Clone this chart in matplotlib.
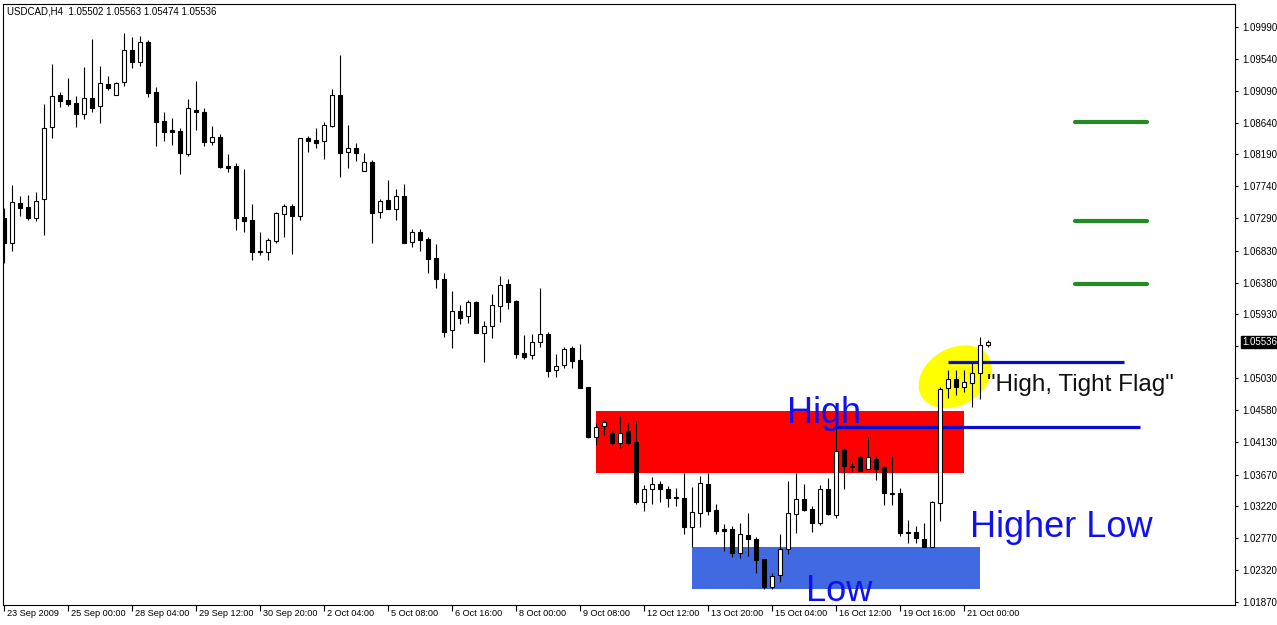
import numpy as np
import matplotlib.pyplot as plt
from matplotlib.patches import Rectangle, Ellipse
from matplotlib.transforms import ScaledTranslation, blended_transform_factory

plt.rcParams['font.family'] = ['Liberation Sans', 'DejaVu Sans']

# USDCAD H4 candles (23 Sep 2009 -> 21 Oct 2009 12:00)
opens = [1.07293, 1.0694, 1.07505, 1.07448, 1.07293, 1.07561, 1.08578, 1.0903, 1.08959, 1.08917,
         1.08761, 1.08987, 1.08874, 1.09185, 1.0903, 1.09213, 1.09665, 1.09496, 1.09778, 1.09072,
         1.08663, 1.08535, 1.08521, 1.08197, 1.08818, 1.0879, 1.08366, 1.08437, 1.08027, 1.08027,
         1.07307, 1.07265, 1.06827, 1.06813, 1.06968, 1.07349, 1.07462, 1.07321, 1.08423, 1.08394,
         1.0838, 1.08592, 1.0903, 1.08225, 1.08281, 1.07956, 1.08084, 1.07377, 1.07547, 1.0742,
         1.07603, 1.06954, 1.07095, 1.06996, 1.06728, 1.06431, 1.05711, 1.05979, 1.05909, 1.06106,
         1.05669, 1.05768, 1.0605, 1.06361, 1.06121, 1.05386, 1.05358, 1.05542, 1.05655, 1.05146,
         1.05217, 1.05457, 1.05287, 1.04906, 1.042, 1.04355, 1.04256, 1.04115, 1.04285, 1.04129,
         1.03282, 1.03466, 1.03536, 1.03466, 1.03353, 1.03339, 1.02929, 1.03127, 1.03536, 1.03169,
         1.02901, 1.02901, 1.02562, 1.02816, 1.0276, 1.02477, 1.02082, 1.02251, 1.02618, 1.03113,
         1.03324, 1.03183, 1.02986, 1.03466, 1.03098, 1.04016, 1.0379, 1.03918, 1.03748, 1.03889,
         1.03776, 1.03409, 1.03409, 1.02858, 1.02858, 1.0276, 1.02647, 1.03268, 1.04892, 1.05019,
         1.04906, 1.04963, 1.05104, 1.05502]
highs = [1.07434, 1.07759, 1.07603, 1.07618, 1.0766, 1.08903, 1.09468, 1.09072, 1.0927, 1.09016,
         1.09425, 1.09821, 1.09439, 1.09298, 1.09213, 1.09905, 1.09849, 1.09863, 1.09806, 1.09143,
         1.0879, 1.08705, 1.08564, 1.08973, 1.09227, 1.08846, 1.08592, 1.08479, 1.08197, 1.08069,
         1.07985, 1.0749, 1.07095, 1.0701, 1.07377, 1.0749, 1.0749, 1.08423, 1.08451, 1.08564,
         1.08648, 1.09114, 1.09595, 1.08606, 1.08352, 1.08211, 1.08112, 1.07561, 1.07829, 1.07702,
         1.07773, 1.07137, 1.07137, 1.07024, 1.06926, 1.06516, 1.06262, 1.06064, 1.06135, 1.06121,
         1.05838, 1.06219, 1.06474, 1.06431, 1.06135, 1.0564, 1.05655, 1.06304, 1.05683, 1.05372,
         1.05471, 1.05485, 1.05513, 1.04906, 1.04398, 1.0444, 1.04299, 1.04497, 1.04398, 1.04426,
         1.03522, 1.03635, 1.03579, 1.03508, 1.0348, 1.03692, 1.03494, 1.03649, 1.03692, 1.03254,
         1.02971, 1.02943, 1.02986, 1.03127, 1.02788, 1.02477, 1.02279, 1.0283, 1.03579, 1.03692,
         1.03536, 1.03226, 1.03522, 1.03621, 1.04341, 1.04045, 1.03847, 1.03932, 1.042, 1.03932,
         1.0379, 1.03932, 1.0348, 1.03028, 1.02943, 1.02986, 1.03296, 1.04906, 1.05146, 1.05146,
         1.05146, 1.05245, 1.05612, 1.05563]
lows = [1.06657, 1.06827, 1.07321, 1.07265, 1.0725, 1.07053, 1.08423, 1.0886, 1.08874, 1.08578,
        1.08691, 1.0879, 1.08634, 1.091, 1.0903, 1.09157, 1.09411, 1.09439, 1.09002, 1.08309,
        1.0838, 1.08324, 1.07914, 1.08168, 1.08535, 1.08309, 1.08324, 1.07999, 1.07942, 1.07123,
        1.07095, 1.067, 1.0677, 1.067, 1.0694, 1.07024, 1.06784, 1.07265, 1.08225, 1.08281,
        1.08126, 1.08578, 1.07872, 1.07999, 1.08098, 1.07956, 1.0694, 1.07293, 1.0742, 1.07265,
        1.0694, 1.06883, 1.06827, 1.06516, 1.06304, 1.05612, 1.05457, 1.05796, 1.0581, 1.05669,
        1.05259, 1.05598, 1.05824, 1.06008, 1.05316, 1.05302, 1.05302, 1.05471, 1.05047, 1.05047,
        1.05174, 1.05174, 1.04892, 1.04186, 1.04087, 1.04228, 1.04101, 1.04045, 1.04101, 1.03254,
        1.03155, 1.03254, 1.03282, 1.03211, 1.03226, 1.0283, 1.02647, 1.02929, 1.03098, 1.0283,
        1.0259, 1.02505, 1.02491, 1.02519, 1.02279, 1.02053, 1.02053, 1.02152, 1.02548, 1.02844,
        1.03155, 1.02858, 1.02957, 1.03098, 1.03056, 1.03466, 1.03706, 1.0372, 1.03748, 1.03593,
        1.0324, 1.0324, 1.02802, 1.02703, 1.02703, 1.02647, 1.02647, 1.03014, 1.04751, 1.04793,
        1.04835, 1.04624, 1.04737, 1.05474]
closes = [1.0694, 1.07519, 1.07434, 1.07293, 1.07533, 1.08564, 1.09016, 1.08945, 1.08903, 1.08761,
          1.08987, 1.08846, 1.09199, 1.09129, 1.09199, 1.09665, 1.09496, 1.09778, 1.09058, 1.08648,
          1.08507, 1.08507, 1.08211, 1.08846, 1.0879, 1.08366, 1.08437, 1.08013, 1.07999, 1.07293,
          1.0725, 1.06813, 1.06813, 1.06982, 1.07363, 1.07462, 1.07321, 1.08423, 1.0838, 1.08352,
          1.08606, 1.0903, 1.08211, 1.08281, 1.08211, 1.08084, 1.07363, 1.07533, 1.0742, 1.07603,
          1.0694, 1.07095, 1.06982, 1.06714, 1.06431, 1.05683, 1.05979, 1.05881, 1.06106, 1.05669,
          1.05768, 1.06064, 1.06347, 1.06106, 1.05372, 1.0533, 1.05542, 1.05655, 1.05132, 1.05203,
          1.05443, 1.05273, 1.04892, 1.042, 1.04341, 1.04412, 1.04115, 1.04256, 1.04115, 1.03282,
          1.03466, 1.03536, 1.03466, 1.03339, 1.03339, 1.02929, 1.03141, 1.0355, 1.03155, 1.02873,
          1.02873, 1.02562, 1.0283, 1.0276, 1.02463, 1.02082, 1.02237, 1.02618, 1.03127, 1.03324,
          1.03169, 1.02986, 1.03466, 1.03113, 1.04002, 1.0379, 1.03776, 1.0372, 1.03918, 1.03748,
          1.03409, 1.03395, 1.02844, 1.02844, 1.02774, 1.02647, 1.03282, 1.04878, 1.05019, 1.04906,
          1.04977, 1.05104, 1.05499, 1.05536]

date_pos = [0, 8, 16, 24, 32, 40, 48, 56, 64, 72, 80, 88, 96, 104, 112, 120]
date_labels = ['23 Sep 2009', '25 Sep 00:00', '28 Sep 04:00', '29 Sep 12:00', '30 Sep 20:00',
               '2 Oct 04:00', '5 Oct 08:00', '6 Oct 16:00', '8 Oct 00:00', '9 Oct 08:00',
               '12 Oct 12:00', '13 Oct 20:00', '15 Oct 04:00', '16 Oct 12:00', '19 Oct 16:00',
               '21 Oct 00:00']
price_ticks = [1.09990, 1.09540, 1.09090, 1.08640, 1.08190, 1.07740, 1.07290, 1.06830, 1.06380,
               1.05930, 1.05480, 1.05030, 1.04580, 1.04130, 1.03670, 1.03220, 1.02770, 1.02320,
               1.01870]

# drawn-on analysis objects
resist_zone = (74, 120, 1.0369, 1.0457)     # red box: candle from/to, price low/high
support_zone = (86, 122, 1.0205, 1.0265)    # blue box
high_line = (104, 142, 1.0434)
flag_line = (118, 140, 1.0526)
targets = [1.0865, 1.0725, 1.0636]
target_span = (133.9, 142.9)

opens = np.array(opens)
closes = np.array(closes)
highs = np.array(highs)
lows = np.array(lows)
idx = np.arange(len(opens))

fig = plt.figure(figsize=(12.77, 6.25), dpi=100)
ax = fig.add_axes([3 / 1277, 20 / 625, 1232 / 1277, 601 / 625])

# zones
ax.add_patch(Rectangle((resist_zone[0], resist_zone[2]), resist_zone[1] - resist_zone[0],
                       resist_zone[3] - resist_zone[2], color='#FF0000', lw=0, zorder=1))
ax.add_patch(Rectangle((support_zone[0], support_zone[2]), support_zone[1] - support_zone[0],
                       support_zone[3] - support_zone[2], color='#4169E1', lw=0, zorder=1))
# yellow highlight around the flag
ell_tr = fig.dpi_scale_trans + ScaledTranslation(118.9, 1.0505, ax.transData)
ax.add_patch(Ellipse((0, 0), 0.78, 0.57, angle=30, color='#FFFF00', lw=0,
                     transform=ell_tr, zorder=1))

ax.hlines(high_line[2], high_line[0], high_line[1], color='#0A0ACD', lw=2.3, zorder=1.5)
ax.hlines(flag_line[2], flag_line[0], flag_line[1], color='#0A0ACD', lw=2.3, zorder=1.5)
for t in targets:
    ax.plot(target_span, [t, t], color='#228B22', lw=3, solid_capstyle='round', zorder=1.5)

# candles
up = closes >= opens
ax.vlines(idx, lows, highs, color='black', lw=0.8, zorder=2)
ax.bar(idx, np.abs(closes - opens), bottom=np.minimum(opens, closes), width=0.55,
       color=np.where(up, 'white', 'black'), edgecolor='black', lw=0.8, zorder=3)

# labels
blue = '#1010F0'
ax.text(97.9, 1.0440, 'High', color=blue, fontsize=26, zorder=4)
ax.text(100.3, 1.0188, 'Low', color=blue, fontsize=26, zorder=4, clip_on=False)
ax.text(120.8, 1.0279, 'Higher Low', color=blue, fontsize=26, zorder=4)
ax.text(122.9, 1.0485, '"High, Tight Flag"', color='#111111', fontsize=17.5, zorder=4)

ax.set_xlim(-0.125, 153.875)
ax.set_ylim(1.018275, 1.103148)

# the 1.05480 label sits under the current-price box, so it is left blank
ax.yaxis.tick_right()
ax.set_yticks(price_ticks)
ax.set_yticklabels(['' if p == 1.05480 else '%.5f' % p for p in price_ticks])
ax.tick_params(axis='y', direction='out', length=2.5, width=0.8, pad=2.5, labelsize=7)
ax.set_xticks(date_pos)
ax.set_xticklabels([])
ax.tick_params(axis='x', direction='out', length=4.3, width=0.8)
tr = blended_transform_factory(ax.transData, ax.transAxes)
for p, lab in zip(date_pos, date_labels):
    ax.text(p + 0.35, -0.0135, lab, transform=tr, fontsize=6.6, va='center', ha='left')

for s in ax.spines.values():
    s.set_linewidth(0.8)

# current price marker
ax.annotate('%.5f' % closes[-1], xy=(1.0, closes[-1]), xycoords=('axes fraction', 'data'),
            xytext=(5, 0), textcoords='offset points', fontsize=7, color='white',
            va='center', ha='left',
            bbox=dict(boxstyle='square,pad=0.1', fc='black', ec='black'))

ax.text(0.0032, 0.988, 'USDCAD,H4  1.05502 1.05563 1.05474 1.05536', transform=ax.transAxes,
        fontsize=7, va='center', ha='left')

fig.savefig('out.png', dpi=100)
